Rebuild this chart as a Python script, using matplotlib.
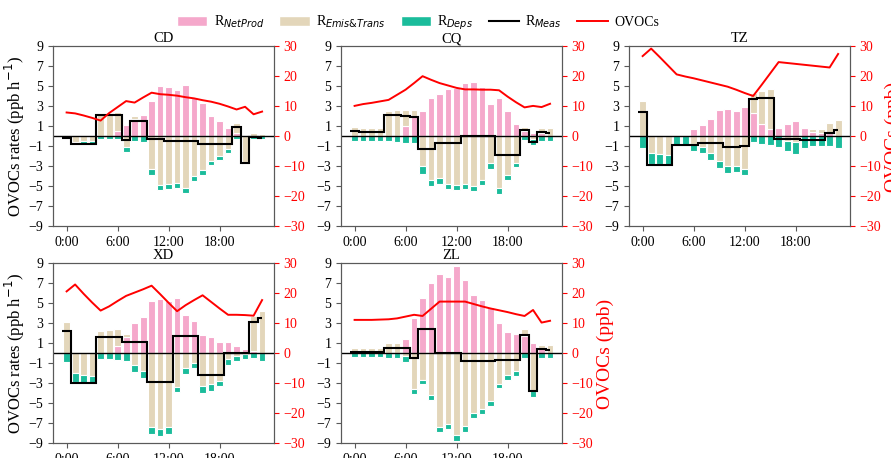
import numpy as np
import matplotlib
matplotlib.use("Agg")
import matplotlib.pyplot as plt
from matplotlib.patches import Patch
from matplotlib.lines import Line2D

plt.rcParams["font.family"] = ["Liberation Serif", "DejaVu Serif"]
plt.rcParams["axes.unicode_minus"] = True

hours = np.arange(24)
xtick_pos = [0, 6, 12, 18]
xtick_lab = ["0:00", "6:00", "12:00", "18:00"]

# ---------------- datos (ppb h-1 y ppb) ----------------
cd_netprod = [0, 0, 0, 0, 0, 0, 0.5, 1.1, 1.75, 2.15, 3.5, 5.0,
              4.95, 4.6, 5.1, 3.9, 3.3, 2.0, 1.5, 0.85, 0.35, 0.15, 0, 0]
cd_emis = [-0.1, -0.55, -0.5, -0.5, 2.3, 2.35, 1.9, -1.1, 0.25, 0, -3.3, -4.85,
           -4.8, -4.65, -5.2, -3.95, -3.35, -2.45, -1.95, -1.3, 1.0, -2.6, 0.3, 0.25]
cd_deps = [-0.1, -0.25, -0.25, -0.25, -0.25, -0.3, -0.3, -0.45, -0.45, -0.55, -0.55, -0.5,
           -0.5, -0.5, -0.45, -0.5, -0.5, -0.4, -0.4, -0.4, -0.3, -0.2, -0.25, -0.25]
cd_meas = [-0.2, -0.8, -0.8, -0.8, 2.1, 2.1, 2.1, -0.4, 1.55, 1.55, -0.3, -0.3,
           -0.5, -0.5, -0.5, -0.5, -0.8, -0.8, -0.8, -0.8, 0.95, -2.7, -0.05, -0.15]
cd_ovoc = [8.0, 7.7, 7.0, 6.2, 5.3, 7.8, 9.8, 11.8, 11.3, 13.0, 14.6, 14.1,
           13.9, 13.6, 13.1, 12.7, 12.1, 11.6, 10.9, 10.0, 9.0, 9.9, 7.4, 8.3]

cq_netprod = [0, 0, 0, 0, 0, 0, 1.0, 2.0, 2.55, 3.8, 4.2, 4.7,
              4.8, 5.3, 5.45, 4.9, 3.2, 3.85, 2.5, 1.2, 0.5, 0.35, 0.3, 0]
cq_emis = [0.9, 0.85, 0.85, 0.85, 2.5, 2.6, 1.65, 0.65, -3.0, -4.35, -4.2, -4.75,
           -4.85, -4.8, -4.95, -4.35, -2.7, -5.2, -3.9, -2.7, 0.45, -0.3, 0.55, 0.85]
cq_deps = [-0.45, -0.45, -0.45, -0.45, -0.5, -0.55, -0.65, -0.7, -0.75, -0.65, -0.6, -0.55,
           -0.5, -0.5, -0.55, -0.55, -0.55, -0.55, -0.5, -0.4, -0.4, -0.6, -0.45, -0.45]
cq_meas = [0.55, 0.4, 0.4, 0.4, 2.1, 2.1, 2.05, 1.95, -1.25, -1.25, -0.7, -0.7,
           -0.7, 0, 0, 0, 0, -1.9, -1.9, -1.9, 0.6, -0.6, 0.4, 0.35]
cq_ovoc = [10.2, 10.8, 11.2, 11.7, 12.2, 13.9, 15.6, 17.8, 20.1, 18.9, 17.8, 17.0,
           16.2, 15.7, 15.7, 15.6, 15.6, 15.4, 13.3, 11.4, 9.7, 10.2, 9.8, 10.9]

tz_netprod = [0, 0, 0, 0, 0, 0, 0.7, 1.15, 1.7, 2.6, 2.7, 2.55,
              2.9, 2.3, 1.2, 0.7, 0.8, 1.25, 1.5, 0.85, 0.4, 0.35, 0.3, 0]
tz_emis = [3.55, -1.7, -1.8, -1.9, 0, 0, -0.8, -1.05, -1.7, -2.5, -3.0, -2.95,
           -3.3, 2.0, 3.35, 4.0, 0, -0.5, -0.6, 0, 0.3, 0.35, 1.05, 1.65]
tz_deps = [-1.2, -1.1, -1.0, -0.95, -0.85, -0.85, -0.7, -0.6, -0.7, -0.7, -0.7, -0.65,
           -0.6, -0.55, -0.75, -0.85, -1.1, -1.0, -1.2, -1.15, -0.95, -0.95, -1.0, -1.15]
tz_meas = [2.4, -2.9, -2.9, -2.9, -0.85, -0.85, -0.85, -0.65, -0.65, -0.65, -1.1, -1.1,
           -1.0, 3.7, 3.8, 3.8, -0.3, -0.3, -0.3, -0.35, -0.35, -0.35, 0.3, 0.6]
tz_ovoc = [26.8, 29.3, 26.5, 23.6, 20.7, 20.0, 19.4, 18.7, 18.0, 17.3, 16.6, 15.6,
           14.5, 13.5, 17.2, 21.0, 24.8, 24.5, 24.2, 23.9, 23.6, 23.3, 23.0, 27.5]

xd_netprod = [0, 0, 0, 0, 0, 0, 0.7, 1.65, 3.0, 3.6, 5.2, 5.4,
              5.25, 5.55, 3.85, 3.2, 1.8, 1.6, 1.1, 1.15, 0.75, 0.45, 0.2, 0]
xd_emis = [3.15, -2.0, -2.2, -2.3, 2.25, 2.3, 1.7, 0.25, -1.2, -1.75, -7.35, -7.55,
           -7.35, -3.35, -1.5, -0.95, -3.3, -3.1, -2.75, -0.6, -0.3, -0.1, 3.5, 4.25]
xd_deps = [-0.9, -0.9, -0.75, -0.65, -0.55, -0.6, -0.65, -0.75, -0.7, -0.75, -0.7, -0.7,
           -0.7, -0.55, -0.6, -0.55, -0.7, -0.7, -0.55, -0.55, -0.5, -0.45, -0.5, -0.75]
xd_meas = [2.25, -2.95, -2.95, -2.95, 1.65, 1.65, 1.65, 1.1, 1.1, 1.1, -2.85, -2.85,
           -2.85, 1.7, 1.7, 1.7, -2.2, -2.2, -2.2, 0, 0, 0, 3.1, 3.5]
xd_ovoc = [20.7, 23.0, 19.9, 17.0, 14.3, 15.7, 17.5, 19.2, 20.3, 21.4, 22.6, 19.8,
           16.9, 14.1, 16.1, 17.8, 19.4, 17.2, 15.0, 12.9, 12.9, 12.8, 12.6, 17.8]

zl_netprod = [0, 0, 0, 0, 0, 0, 1.45, 3.55, 5.5, 7.0, 7.9, 7.6,
              8.75, 7.3, 5.8, 5.3, 4.6, 3.0, 2.1, 1.95, 1.7, 1.0, 0.5, 0]
zl_emis = [0.55, 0.55, 0.55, 0.55, 1.0, 1.0, -0.3, -3.6, -2.65, -4.2, -7.35, -7.05,
           -8.2, -7.3, -6.0, -5.6, -4.8, -3.05, -2.2, -1.75, 0.7, -3.8, 0.35, 0.85]
zl_deps = [-0.4, -0.4, -0.4, -0.4, -0.45, -0.45, -0.55, -0.5, -0.45, -0.5, -0.55, -0.55,
           -0.55, -0.55, -0.5, -0.5, -0.5, -0.45, -0.5, -0.5, -0.45, -0.55, -0.45, -0.45]
zl_meas = [0.1, 0.1, 0.1, 0.1, 0.55, 0.55, 0.55, -0.5, 2.4, 2.4, 0.05, 0.05,
           0.05, -0.8, -0.8, -0.8, -0.8, -0.65, -0.65, -0.65, 1.85, -3.8, 0.4, 0.3]
zl_ovoc = [11.2, 11.2, 11.2, 11.3, 11.4, 11.7, 12.3, 12.9, 12.5, 14.9, 17.3, 17.3,
           17.3, 17.3, 16.5, 15.7, 15.0, 14.4, 13.8, 13.1, 12.5, 14.5, 10.3, 10.9]

C_NET = "#F5A8CB"
C_EMIS = "#E3D6BA"
C_DEPS = "#1BBC9B"
SPINE = "0.35"
FS = 10


def panel(rect, titulo, netprod, emis, deps, meas, ovoc, lab_izq, lab_der):
    ax = fig.add_axes(rect)
    pos = np.zeros(24)
    neg = np.zeros(24)
    # apilado: positivos hacia arriba, negativos hacia abajo
    for serie, col in zip([netprod, emis, deps], [C_NET, C_EMIS, C_DEPS]):
        v = np.asarray(serie, dtype=float)
        base = np.where(v >= 0, pos, neg)
        ax.bar(hours, v, 0.8, bottom=base, color=col,
               edgecolor="white", linewidth=0.8, zorder=2)
        pos = pos + np.clip(v, 0, None)
        neg = neg + np.clip(v, None, 0)
    ax.axhline(0, color="k", lw=1.0, zorder=3)
    edges = np.append(hours - 0.5, hours[-1])
    ax.stairs(meas, edges, baseline=None, color="k", lw=1.5, zorder=4)
    ax.set_ylim(-9, 9)
    ax.set_yticks(range(-9, 10, 2))
    ax.set_xlim(-1.6, 24.4)
    ax.set_xticks(xtick_pos)
    ax.set_xticklabels(xtick_lab)
    ax.tick_params(labelsize=FS, color=SPINE)
    ax.set_title(titulo, fontsize=10.5, pad=3)
    if lab_izq:
        ax.set_ylabel("OVOCs rates (ppb h$^{-1}$)", fontsize=12, labelpad=1)

    ax2 = ax.twinx()
    ax2.plot(hours, ovoc, color="red", lw=1.4, zorder=5)
    ax2.set_ylim(-30, 30)
    ax2.set_yticks(range(-30, 31, 10))
    ax2.tick_params(axis="y", colors="red", labelsize=FS)
    if lab_der:
        ax2.set_ylabel("OVOCs (ppb)", color="red", fontsize=14, labelpad=2)
    for a in (ax, ax2):
        for s in a.spines.values():
            s.set_color(SPINE)
    return ax


fig = plt.figure(figsize=(8.91, 4.58), dpi=100)

W = 0.248
H = 0.393
panel([0.0595, 0.5055, W, H], "CD", cd_netprod, cd_emis, cd_deps, cd_meas, cd_ovoc, True, False)
panel([0.3827, 0.5055, W, H], "CQ", cq_netprod, cq_emis, cq_deps, cq_meas, cq_ovoc, False, False)
panel([0.7060, 0.5055, W, H], "TZ", tz_netprod, tz_emis, tz_deps, tz_meas, tz_ovoc, False, True)
panel([0.0595, 0.0317, W, H], "XD", xd_netprod, xd_emis, xd_deps, xd_meas, xd_ovoc, True, False)
panel([0.3827, 0.0317, W, H], "ZL", zl_netprod, zl_emis, zl_deps, zl_meas, zl_ovoc, False, True)

handles = [
    Patch(facecolor=C_NET, edgecolor="white", label="R$_{NetProd}$"),
    Patch(facecolor=C_EMIS, edgecolor="white", label="R$_{Emis&Trans}$"),
    Patch(facecolor=C_DEPS, edgecolor="white", label="R$_{Deps}$"),
    Line2D([], [], color="k", lw=1.5, label="R$_{Meas}$"),
    Line2D([], [], color="red", lw=1.4, label="OVOCs"),
]
fig.legend(handles=handles, ncol=5, loc="center", bbox_to_anchor=(0.469, 0.950),
           frameon=False, fontsize=FS, handlelength=2.2, handletextpad=0.45,
           columnspacing=1.1)

fig.savefig("out.png", dpi=100)
